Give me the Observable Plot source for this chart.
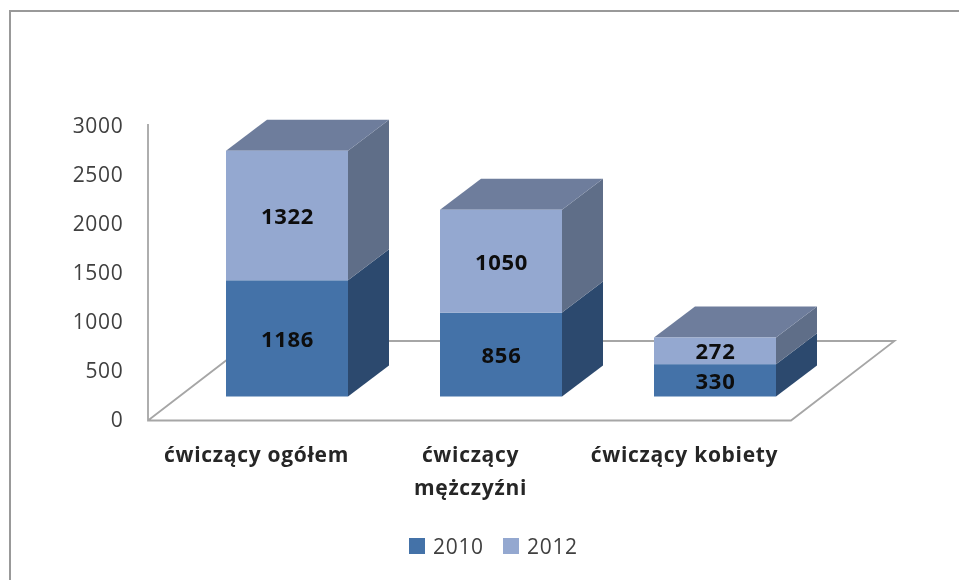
<!DOCTYPE html>
<html><head><meta charset="utf-8">
<script src="https://cdn.jsdelivr.net/npm/d3@7"></script>
<script src="https://cdn.jsdelivr.net/npm/@observablehq/plot@0.6"></script>
<style>
html,body{margin:0;padding:0;background:#fff;width:959px;height:580px;overflow:hidden}
#frame{position:absolute;left:9px;top:10px;width:960px;height:580px;border-left:2px solid #999;border-top:2px solid #999;filter:blur(.4px)}
#chart{position:absolute;left:0;top:0;filter:blur(.55px)}
#legend{position:absolute;left:0;top:525px;width:959px;height:55px;font:21px "Open Sans",sans-serif;letter-spacing:.7px;color:#404040;filter:blur(.55px)}
#legend span{position:absolute;top:9px;line-height:24px}
#legend i{position:absolute;top:13px;width:16px;height:16px}
svg{font-family:"Open Sans",sans-serif}
</style></head><body>
<div id="frame"></div>
<div id="chart"></div>
<div id="legend"></div>
<script>
const categories = ["ćwiczący ogółem", "ćwiczący\nmężczyźni", "ćwiczący kobiety"];
const values2010 = [1186, 856, 330];
const values2012 = [1322, 1050, 272];
const years = ["2010", "2012"];
const yTicks = [0, 500, 1000, 1500, 2000, 2500, 3000];
const frontColors = ["#4472a8", "#94a8d0"];
const sideColors = ["#2c496e", "#5f6e88"];
const topColor = "#6e7d9c";
const depthX = 41, depthY = 31;

const stacked = categories.flatMap((category, i) => [
  {category, year: years[0], y1: 0, y2: values2010[i], value: values2010[i]},
  {category, year: years[1], y1: values2010[i], y2: values2010[i] + values2012[i], value: values2012[i]}
]);
const colorOf = new Map(years.map((y, i) => [y, frontColors[i]]));
const sideOf = new Map(years.map((y, i) => [y, sideColors[i]]));
const bandOf = s => typeof s.bandwidth === "function" ? s.bandwidth() : s.bandwidth;

// extruded faces, positioned through the chart's x and y scales
function extrude(index, scales, channels, dims, ctx) {
  const g = d3.select(ctx.document.createElementNS("http://www.w3.org/2000/svg", "g"));
  const bw = bandOf(scales.x);
  for (const i of index) {
    const d = stacked[i];
    const x0 = scales.x(d.category), x1 = x0 + bw;
    const a = scales.y(d.y1), b = scales.y(d.y2);
    g.append("polygon")
      .attr("points", [[x1,a],[x1+depthX,a-depthY],[x1+depthX,b-depthY],[x1,b]].join(" "))
      .attr("fill", sideOf.get(d.year));
    if (d.year === years[1]) {
      g.append("polygon")
        .attr("points", [[x0,b],[x0+depthX,b-depthY],[x1+depthX,b-depthY],[x1,b]].join(" "))
        .attr("fill", topColor);
    }
  }
  return g.node();
}
// floor and vertical axis, hung on the same scales
function floor(index, scales, channels, dims, ctx) {
  const g = d3.select(ctx.document.createElementNS("http://www.w3.org/2000/svg", "g"))
    .attr("fill", "none").attr("stroke", "#a6a6a6").attr("stroke-width", 1.8);
  const bw = bandOf(scales.x);
  const left = scales.x(categories[0]) - 78;
  const right = scales.x(categories[2]) + bw + 15;
  const front = scales.y(0) + 24, back = scales.y(0) - 55.5;
  const shift = 103.5;
  g.append("polyline").attr("points", [[left, scales.y(3000) + 21.5],[left, front],[right, front],[right + shift, back],[left + shift, back],[left, front]].join(" "));
  return g.node();
}

const plot = Plot.plot({
  width: 959, height: 525,
  marginLeft: 226, marginRight: 182, marginTop: 102.5, marginBottom: 128.5,
  style: {background: "transparent", overflow: "visible", letterSpacing: ".7px"},
  x: {type: "band", domain: categories, paddingInner: 0.4276, paddingOuter: 0, axis: null},
  y: {domain: [0, 3000], axis: null},
  marks: [
    Plot.ruleY([0], {render: floor}),
    Plot.barY(stacked, {x: "category", y1: "y1", y2: "y2", fill: "none", render: extrude}),
    Plot.barY(stacked, {x: "category", y1: "y1", y2: "y2", fill: d => colorOf.get(d.year)}),
    Plot.text(stacked, {x: "category", y: d => (d.y1 + d.y2) / 2, text: d => String(d.value), fontSize: 22, fontWeight: 700, fill: "#0d0d0d", dy: 1}),
    Plot.axisY({ticks: yTicks, tickSize: 0, tickPadding: 0, dx: -103, dy: 23, label: null, fontSize: 21, fill: "#404040", tickFormat: d => String(d)}),
    Plot.axisX({tickSize: 0, tickPadding: 0, dx: -31, dy: 42, label: null, fontSize: 21, fontWeight: 700, fill: "#262626", lineHeight: 1.55, lineAnchor: "top"})
  ]
});
document.getElementById("chart").append(plot);

const legend = d3.select("#legend");
const legendPos = [[409, 433], [503, 527]];
years.forEach((y, i) => {
  legend.append("i").style("left", legendPos[i][0] + "px").style("background", frontColors[i]);
  legend.append("span").style("left", legendPos[i][1] + "px").text(y);
});
</script></body></html>
